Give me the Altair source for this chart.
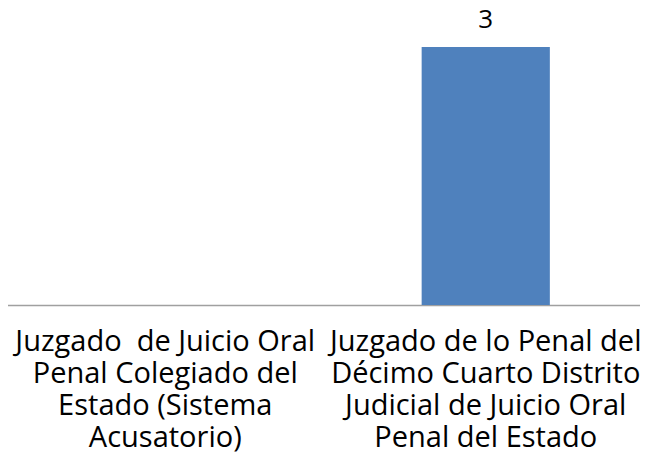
import altair as alt
import pandas as pd

categories = [
    ["Juzgado\u00a0 de Juicio Oral", "Penal Colegiado del", "Estado (Sistema", "Acusatorio)"],
    ["Juzgado de lo Penal del", "Décimo Cuarto Distrito", "Judicial de Juicio Oral", "Penal del Estado"],
]
values = [0, 3]

df = pd.DataFrame({
    "cat": ["|".join(c) for c in categories],
    "value": values,
})
order = list(df["cat"])

FONT = "Open Sans"
FS = 29

x = alt.X(
    "cat:N",
    sort=order,
    scale=alt.Scale(paddingInner=0.6, paddingOuter=0.3),
    axis=alt.Axis(
        title=None,
        labelAngle=0,
        labelExpr="split(datum.label, '|')",
        labelFont=FONT,
        labelFontSize=FS,
        labelColor="#000000",
        labelLineHeight=32,
        labelBaseline="top",
        labelPadding=22,
        ticks=False,
        domainColor="#a0a0a0",
        domainWidth=1.5,
        labelLimit=400,
    ),
)
y = alt.Y("value:Q", scale=alt.Scale(domain=[0, 3], nice=False), axis=None)

bars = alt.Chart(df).mark_bar(color="#4f81bd").encode(x=x, y=y)
text = alt.Chart(df).transform_filter("datum.value > 0").mark_text(
    baseline="alphabetic", dy=-19, font=FONT, fontSize=26, color="#000000"
).encode(x=x, y=y, text="value:Q")

chart = (bars + text).properties(
    width=641, height=258,
    padding={"left": -3, "top": -1, "right": -6, "bottom": 0},
).configure_view(stroke=None).configure_axis(grid=False)

chart.save("out.html", embed_options={"renderer": "svg", "actions": False})
